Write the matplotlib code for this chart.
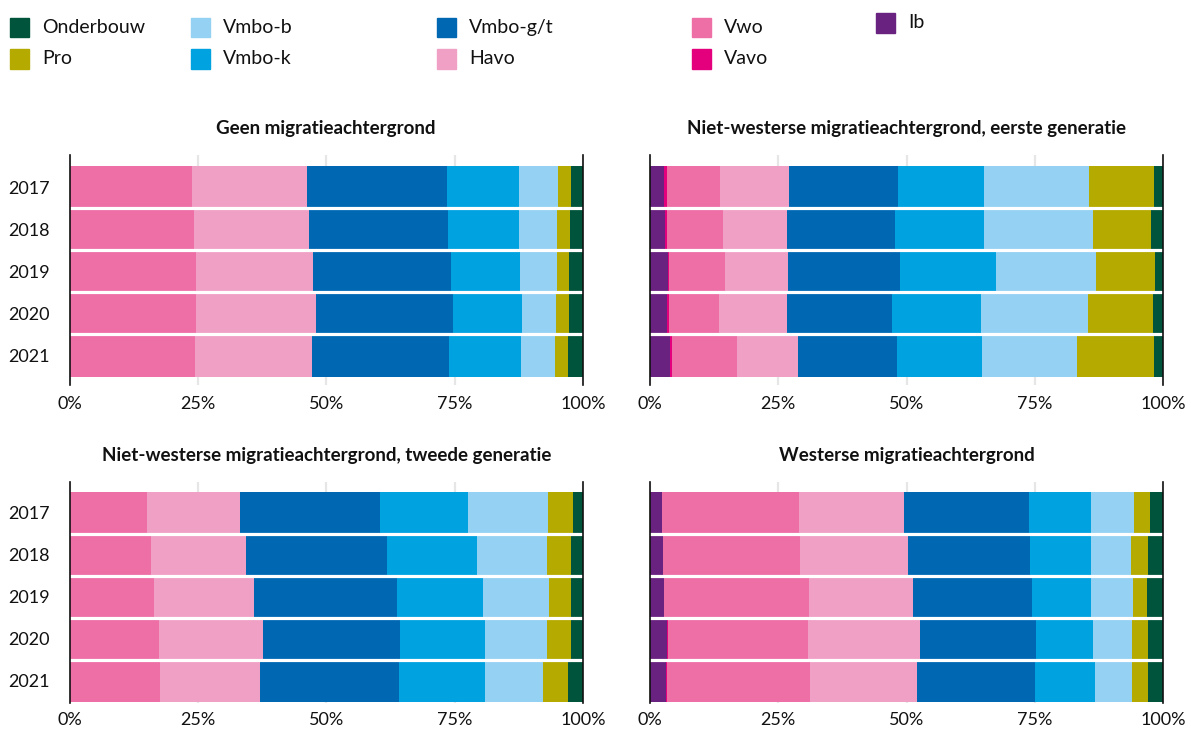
import numpy as np
import matplotlib.pyplot as plt
from matplotlib.patches import Rectangle

plt.rcParams['font.family'] = ['Lato', 'DejaVu Sans']

# Data (percent of pupils per school type)
years = ['2017', '2018', '2019', '2020', '2021']
categories = ['Ib', 'Vavo', 'Vwo', 'Havo', 'Vmbo-g/t', 'Vmbo-k', 'Vmbo-b', 'Pro', 'Onderbouw']
colors = ['#6a2280', '#e4007d', '#ee6ea6', '#f09fc5', '#0068b3',
          '#00a2e0', '#94d1f3', '#b5aa00', '#01543c']

titles = ['Geen migratieachtergrond',
          'Niet-westerse migratieachtergrond, eerste generatie',
          'Niet-westerse migratieachtergrond, tweede generatie',
          'Westerse migratieachtergrond']

# rows: years, columns: categories
geen = [
    [0.0, 0.0, 23.8, 22.4, 27.3, 14.0, 7.7, 2.4, 2.4],
    [0.0, 0.0, 24.2, 22.4, 27.1, 13.8, 7.5, 2.4, 2.6],
    [0.0, 0.0, 24.6, 22.8, 26.8, 13.5, 7.3, 2.2, 2.8],
    [0.0, 0.0, 24.6, 23.5, 26.5, 13.5, 6.7, 2.4, 2.8],
    [0.0, 0.0, 24.4, 22.8, 26.8, 13.9, 6.7, 2.4, 3.0],
]
nw_eerste = [
    [2.8, 0.55, 10.3, 13.4, 21.2, 16.8, 20.6, 12.5, 1.8],
    [3.0, 0.35, 10.9, 12.4, 21.2, 17.2, 21.4, 11.3, 2.2],
    [3.55, 0.15, 11.0, 12.2, 21.8, 18.7, 19.5, 11.6, 1.5],
    [3.35, 0.4, 9.75, 13.2, 20.5, 17.3, 20.8, 12.7, 2.0],
    [3.95, 0.4, 12.65, 11.9, 19.2, 16.6, 18.5, 15.0, 1.8],
]
nw_tweede = [
    [0.1, 0.0, 15.0, 18.1, 27.2, 17.3, 15.4, 4.9, 2.0],
    [0.1, 0.0, 15.7, 18.5, 27.6, 17.4, 13.6, 4.7, 2.4],
    [0.1, 0.0, 16.3, 19.5, 27.8, 16.9, 12.7, 4.3, 2.4],
    [0.1, 0.0, 17.3, 20.2, 26.7, 16.7, 11.9, 4.7, 2.4],
    [0.1, 0.0, 17.5, 19.5, 27.0, 16.9, 11.3, 4.7, 3.0],
]
westers = [
    [2.3, 0.1, 26.7, 20.4, 24.4, 12.0, 8.5, 3.0, 2.6],
    [2.5, 0.1, 26.7, 21.0, 23.7, 11.9, 7.8, 3.3, 3.0],
    [2.7, 0.1, 28.2, 20.3, 23.1, 11.5, 8.2, 2.7, 3.2],
    [3.4, 0.15, 27.25, 21.8, 22.6, 11.1, 7.6, 3.1, 3.0],
    [3.2, 0.15, 27.85, 20.8, 23.0, 11.7, 7.2, 3.1, 3.0],
]

W, H = 1191, 731
fig = plt.figure(figsize=(W / 100, H / 100), dpi=100)

def px_axes(x0, y0, x1, y1):
    return fig.add_axes([x0 / W, 1 - y1 / H, (x1 - x0) / W, (y1 - y0) / H])

boxes = [(69.5, 155, 583, 385), (650, 155, 1163, 385),
         (69.5, 482, 583, 703), (650, 482, 1163, 703)]
ylims = [(4.7, -0.76), (4.7, -0.76), (4.53, -0.735), (4.53, -0.735)]
panels = [geen, nw_eerste, nw_tweede, westers]

for i, (box, data, title) in enumerate(zip(boxes, panels, titles)):
    ax = px_axes(*box)
    vals = np.array(data)
    y = np.arange(len(years))
    left = np.zeros(len(years))
    for j, cat in enumerate(categories):
        ax.barh(y, vals[:, j], left=left, height=1.0, color=colors[j],
                linewidth=0, zorder=2)
        left += vals[:, j]
    # white separators between the bars
    for k in range(len(years) - 1):
        ax.axhline(k + 0.5, color='white', lw=2.3, zorder=3)
    ax.set_xlim(0, 100)
    ax.set_ylim(*ylims[i])
    ax.set_xticks([0, 25, 50, 75, 100])
    ax.set_xticklabels(['0%', '25%', '50%', '75%', '100%'])
    ax.xaxis.grid(True, color='#e6e6e6', lw=1.6, zorder=0)
    ax.set_axisbelow(True)
    ax.set_yticks(y)
    if i % 2 == 0:
        ax.set_yticklabels(years)
    else:
        ax.set_yticklabels([])
    ax.tick_params(axis='both', length=0, labelsize=13, colors='#111111')
    ax.tick_params(axis='x', pad=8 if i < 2 else 6.5)
    ax.tick_params(axis='y', pad=14)
    for s in ['top', 'bottom']:
        ax.spines[s].set_visible(False)
    for s in ['left', 'right']:
        ax.spines[s].set_color('#111111')
        ax.spines[s].set_linewidth(1.2)
        ax.spines[s].set_zorder(4)
    ax.set_title(title, fontsize=13.5, fontweight='bold', color='#111111', pad=15)

# Legend, laid out in columns like the original
legend_cols = [(10, ['Onderbouw', 'Pro']), (191, ['Vmbo-b', 'Vmbo-k']),
               (437, ['Vmbo-g/t', 'Havo']), (692, ['Vwo', 'Vavo']), (876, ['Ib'])]
row_y = [27.5, 59]
for x0, names in legend_cols:
    for r, name in enumerate(names):
        yc = row_y[r] if name != 'Ib' else 23
        c = colors[categories.index(name)]
        fig.patches.append(Rectangle((x0 / W, 1 - (yc + 9.5) / H), 19 / W, 19 / H,
                                     transform=fig.transFigure, color=c))
        fig.text((x0 + 32) / W, 1 - yc / H, name, fontsize=14, color='#111111',
                 va='center', ha='left')

fig.savefig('out.png', dpi=100)
